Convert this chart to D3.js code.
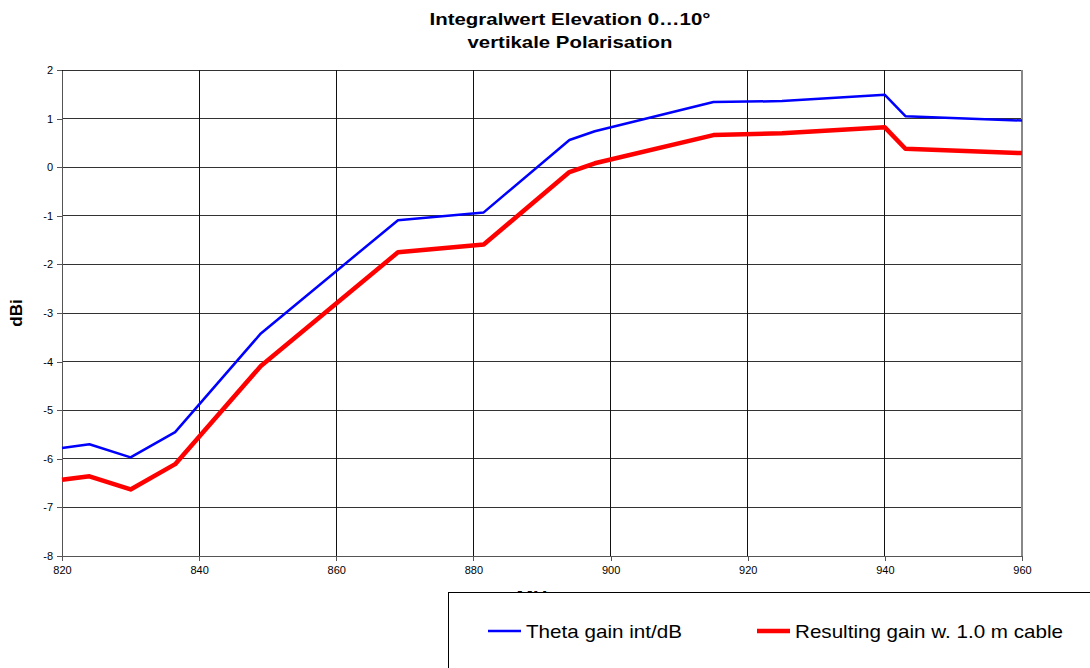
<!doctype html>
<html lang="de">
<head>
<meta charset="utf-8">
<title>Integralwert Elevation</title>
<style>
  body { margin: 0; background: #fff; }
  svg text { font-family: "Liberation Sans", Arial, sans-serif; }
</style>
</head>
<body>
<div id="chart"></div>
<script src="https://cdn.jsdelivr.net/npm/d3@7"></script>
<script>
// frequency in MHz
const freq = [820, 824, 830, 836.5, 849, 869, 881.5, 894, 897.7, 915, 925, 940, 943, 960];
// Theta gain int/dB
const thetaGain = [-5.78, -5.70, -5.97, -5.45, -3.42, -1.09, -0.93, 0.56, 0.74, 1.34, 1.36, 1.49, 1.05, 0.96];
// Resulting gain w. 1.0 m cable
const resultGain = [-6.43, -6.36, -6.63, -6.11, -4.09, -1.75, -1.59, -0.10, 0.08, 0.66, 0.70, 0.82, 0.38, 0.29];
const xTicks = [820, 840, 860, 880, 900, 920, 940, 960];
const yTicks = [2, 1, 0, -1, -2, -3, -4, -5, -6, -7, -8];

const width = 1090, height = 668;
const plotLeft = 62, plotRight = 1022, plotTop = 70, plotBottom = 556;

const svg = d3.select("#chart").append("svg")
  .attr("width", width)
  .attr("height", height);

const x = d3.scaleLinear().domain([820, 960]).range([plotLeft, plotRight]);
const y = d3.scaleLinear().domain([-8, 2]).range([plotBottom, plotTop]);

// title (text is a bit stretched in the original, textLength copies that)
svg.append("text").attr("x", 570).attr("y", 25).attr("text-anchor", "middle")
  .attr("font-size", 17).attr("font-weight", "bold")
  .attr("textLength", 281).attr("lengthAdjust", "spacingAndGlyphs")
  .text("Integralwert Elevation 0…10°");
svg.append("text").attr("x", 570).attr("y", 48).attr("text-anchor", "middle")
  .attr("font-size", 17).attr("font-weight", "bold")
  .attr("textLength", 205).attr("lengthAdjust", "spacingAndGlyphs")
  .text("vertikale Polarisation");

// grid
svg.append("g").selectAll("line").data(yTicks).enter().append("line")
  .attr("x1", plotLeft).attr("x2", plotRight)
  .attr("y1", d => y(d)).attr("y2", d => y(d))
  .attr("stroke", "#333").attr("stroke-width", 1).attr("shape-rendering", "crispEdges");
svg.append("g").selectAll("line").data(xTicks).enter().append("line")
  .attr("y1", plotTop).attr("y2", plotBottom)
  .attr("x1", d => x(d)).attr("x2", d => x(d))
  .attr("stroke", d => d == 960 ? "#888" : "#111").attr("stroke-width", d => d == 960 ? 2 : 1)
  .attr("shape-rendering", "crispEdges");

// axes
const yAxis = svg.append("g").attr("transform", "translate(" + plotLeft + ",0)")
  .call(d3.axisLeft(y).tickValues(yTicks).tickSize(5).tickSizeOuter(0).tickFormat(d3.format("d")));
const xAxis = svg.append("g").attr("transform", "translate(0," + plotBottom + ")")
  .call(d3.axisBottom(x).tickValues(xTicks).tickSize(5).tickSizeOuter(0));
[yAxis, xAxis].forEach(a => {
  a.selectAll("path, line").attr("stroke", "#555").attr("shape-rendering", "crispEdges");
  a.selectAll("text").attr("font-size", 11).attr("fill", "#000")
    .style("font-family", '"Liberation Sans", Arial, sans-serif');
});
yAxis.selectAll("text").attr("x", -9).text(d => d < 0 ? "-" + Math.abs(d) : d);
xAxis.selectAll("text").attr("y", 10);

// axis titles
svg.append("text").attr("transform", "translate(22," + ((plotTop + plotBottom) / 2) + ") rotate(-90)")
  .attr("text-anchor", "middle").attr("font-size", 17).attr("font-weight", "bold").text("dBi");
svg.append("text").attr("x", 537).attr("y", 603).attr("text-anchor", "middle")
  .attr("font-size", 16).attr("font-weight", "bold")
  .attr("textLength", 41).attr("lengthAdjust", "spacingAndGlyphs").text("MHz");

// lines
const line = d3.line().x(d => x(d[0])).y(d => y(d[1]));
svg.append("path").datum(d3.zip(freq, thetaGain)).attr("d", line)
  .attr("fill", "none").attr("stroke", "#0000ff").attr("stroke-width", 2.5).attr("stroke-linejoin", "round");
svg.append("path").datum(d3.zip(freq, resultGain)).attr("d", line)
  .attr("fill", "none").attr("stroke", "#ff0000").attr("stroke-width", 4.5).attr("stroke-linejoin", "round");

// legend
const legend = svg.append("g");
legend.append("rect").attr("x", 448.5).attr("y", 592.5).attr("width", 700).attr("height", 100)
  .attr("fill", "#fff").attr("stroke", "#000").attr("stroke-width", 1);
legend.append("line").attr("x1", 488).attr("x2", 521).attr("y1", 631).attr("y2", 631)
  .attr("stroke", "#0000ff").attr("stroke-width", 2.5);
legend.append("text").attr("x", 526).attr("y", 638).attr("font-size", 19)
  .attr("textLength", 156).attr("lengthAdjust", "spacingAndGlyphs").text("Theta gain int/dB");
legend.append("line").attr("x1", 757).attr("x2", 790).attr("y1", 631).attr("y2", 631)
  .attr("stroke", "#ff0000").attr("stroke-width", 4.5);
legend.append("text").attr("x", 795).attr("y", 638).attr("font-size", 19)
  .attr("textLength", 268).attr("lengthAdjust", "spacingAndGlyphs").text("Resulting gain w. 1.0 m cable");
</script>
</body>
</html>
